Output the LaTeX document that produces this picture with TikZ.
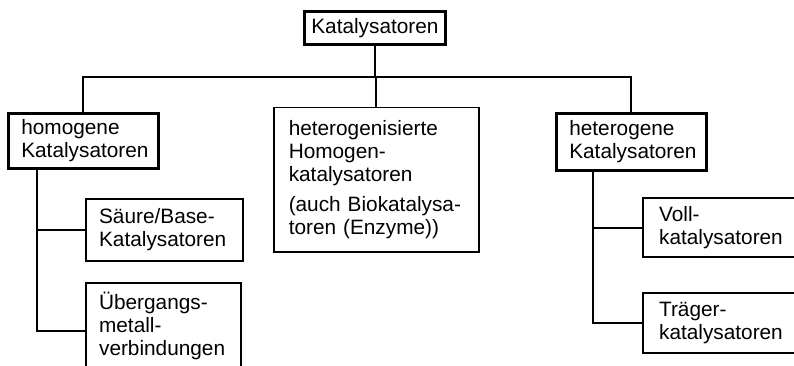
\documentclass[tikz,border=0pt]{standalone}
\usepackage{fontspec}
\setmainfont{Liberation Sans}
\hyphenpenalty=10000
\begin{document}
\begin{tikzpicture}[x=1pt,y=-1pt,
	box/.style={draw, line width=2.2pt, anchor=north west, align=left, inner xsep=13pt, inner ysep=3pt,
		font=\fontsize{20.8}{23}\selectfont},
	line/.style={line width=1.8pt}]
	\useasboundingbox (0,0) rectangle (794,366);
	\clip (0,0) rectangle (794,366);
	
	% oberste Ebene
	\node[box, align=center, inner xsep=5pt, text width=131pt, minimum height=33pt, line width=2.8pt] (kat) at (303,10) {Katalysatoren};
	
	% zweite Ebene
	\node[box, text width=124pt, minimum height=55pt, line width=2.6pt] (homo) at (7,112) {homogene\\Katalysatoren};
	\node[box, inner xsep=15pt, text width=175pt, minimum height=144pt, line width=1.5pt] (hetgen) at (273,107) {heterogenisierte\\Homogen-\\katalysatoren\\[7pt](auch~Biokatalysa-\\toren~(Enzyme))};
	\node[box, text width=124pt, minimum height=57pt, line width=2.6pt] (hetero) at (555,112) {heterogene\\Katalysatoren};
	
	% dritte Ebene
	\node[box, text width=131pt, minimum height=62pt] (saeure) at (85,198) {Säure/Base-\\Katalysatoren};
	\node[box, text width=129pt, minimum height=86pt] (ueber) at (85,282) {Übergangs-\\metall-\\verbindungen};
	\node[box, inner xsep=16pt, text width=126pt, minimum height=59pt] (voll) at (642,197) {Voll-\\katalysatoren};
	\node[box, inner xsep=16pt, text width=126pt, minimum height=60pt] (traeger) at (642,292) {Träger-\\katalysatoren};
	
	% Verbindungen
	\coordinate (bus) at (0,77);
	\draw[line] (homo.north) -- (homo.north |- bus) -- (hetero.north |- bus) -- (hetero.north);
	\draw[line] (kat.south) -- (kat.south |- bus);
	\draw[line] (hetgen.north) -- (hetgen.north |- bus);
	
	\coordinate (homo-stem) at ([xshift=30pt]homo.south west);
	\draw[line] (homo-stem) |- (saeure.west);
	\draw[line] (homo-stem) |- ([yshift=-5pt]ueber.west);
	
	\coordinate (hetero-stem) at ([xshift=38pt]hetero.south west);
	\draw[line] (hetero-stem) |- (voll.west);
	\draw[line] (hetero-stem) |- (traeger.west);
\end{tikzpicture}
\end{document}
